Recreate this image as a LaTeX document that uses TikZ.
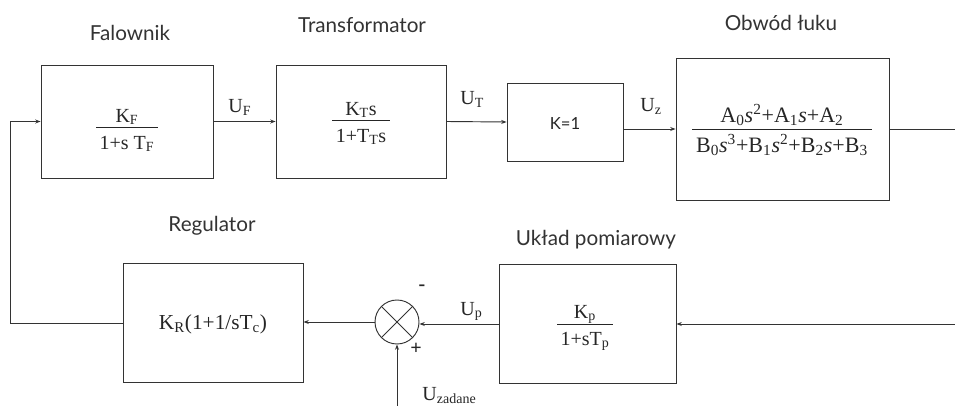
\documentclass[tikz,border=0pt]{standalone}
\usepackage{fontspec}
\setmainfont{Liberation Serif}
\newfontfamily\ttlfont{Lato}
\usetikzlibrary{arrows.meta,calc}
\newcommand\sbs[1]{\textsubscript{#1}}
\newcommand\sps[1]{\textsuperscript{#1}}
\newcommand\frc[2]{\begin{tabular}{@{\,}c@{\,}}#1\\[-1pt]\hline\rule{0pt}{1.05em}#2\end{tabular}}
\begin{document}
\begin{tikzpicture}[x=0.75pt,y=-0.75pt,
  line width=0.7pt, draw=black!80,
  blk/.style={draw, rectangle, inner sep=0pt},
  ttl/.style={font=\ttlfont\fontsize{15.5}{17}\selectfont, text=black!80},
  frm/.style={font=\fontsize{15}{17}\selectfont, text=black!85, inner sep=0pt},
  lbl/.style={font=\fontsize{15}{17}\selectfont, text=black!85, inner sep=0pt, anchor=base west},
  arr/.style={-{Stealth[length=4pt,width=3pt]}}]
\useasboundingbox (0,0) rectangle (955,406);
% blocks
\node[blk, minimum width=129pt, minimum height=84.75pt] (F) at (127,121.5) {};
\node[blk, minimum width=127.5pt, minimum height=84.75pt] (T) at (361,121.5) {};
\node[blk, minimum width=87pt, minimum height=58.5pt] (K) at (565,122) {};
\node[blk, minimum width=159.75pt, minimum height=106.5pt] (A) at (782.5,129) {};
\node[blk, minimum width=135pt, minimum height=89.25pt] (R) at (213,323) {};
\node[blk, minimum width=132.75pt, minimum height=89.25pt] (M) at (587.5,324) {};
\node[circle, draw, minimum size=33pt, inner sep=0pt] (S) at (397,322) {};
\draw (S.north west) -- (S.south east) (S.north east) -- (S.south west);
% contents
\node[frm] (fF) at (127,131) {\frc{K\sbs{F}}{1+s T\sbs{F}}};
\node[frm] (fT) at (361,124) {\frc{K\sbs{T}s}{1+T\sbs{T}s}};
\node[frm, font=\ttlfont\fontsize{12.5}{14}\selectfont] (fK) at (565,124) {K=1};
\node[frm, font=\fontsize{16.5}{19}\selectfont] (fA) at (782,132) {\frc{A\sbs{0}\textit{s}\sps{2}+A\sbs{1}\textit{s}+A\sbs{2}}{B\sbs{0}\textit{s}\sps{3}+B\sbs{1}\textit{s}\sps{2}+B\sbs{2}\textit{s}+B\sbs{3}}};
\node[frm, font=\fontsize{16}{18}\selectfont] (fR) at (213,324) {K\sbs{R}(1+1/sT\sbs{c})};
\node[frm] (fM) at (585,327) {\frc{K\sbs{p}}{1+sT\sbs{p}}};
% titles
\node[ttl] (tF) at (130,33) {Falownik};
\node[ttl] (tT) at (362,25) {Transformator};
\node[ttl] (tA) at (781,23) {Obwód łuku};
\node[ttl] (tR) at (212,226) {Regulator};
\node[ttl] (tM) at (596,240) {Układ pomiarowy};
% signal labels
\node[lbl] (uF) at (228,113) {U\sbs{F}};
\node[lbl] (uT) at (460,105) {U\sbs{T}};
\node[lbl] (uZ) at (640,112) {U\sbs{z}};
\node[lbl] (uP) at (460,315) {U\sbs{p}};
\node[lbl] (uD) at (422,400) {U\sbs{\fontsize{10.5}{12}\selectfont zadane}};
\node[font=\bfseries\fontsize{15}{17}\selectfont, text=black!85, inner sep=0pt] (pl) at (416,349) {+};
\node[font=\bfseries\fontsize{15}{17}\selectfont, text=black!85, inner sep=0pt] (mi) at (422,288) {-};
% free ends
\coordinate (outR) at (955,129);
\coordinate (inR) at (955,324);
\coordinate (fbL) at (10,323);
\coordinate (zin) at (397,406);
% connectors
\draw[arr] (F.east) -- (T.west);
\draw[arr] (T.east) -- (K.west);
\draw[arr] (K.east |- A.west) -- (A.west);
\draw (A.east) -- (outR);
\draw[arr] (inR) -- (M.east);
\draw[arr] (M.west) -- (M.west -| S.east);
\draw[arr] (S.west) -- (S.west -| R.east);
\draw[arr] (R.west) -- (fbL) |- (F.west);
\draw[arr] (zin) -- (S.south);
\end{tikzpicture}
\end{document}
